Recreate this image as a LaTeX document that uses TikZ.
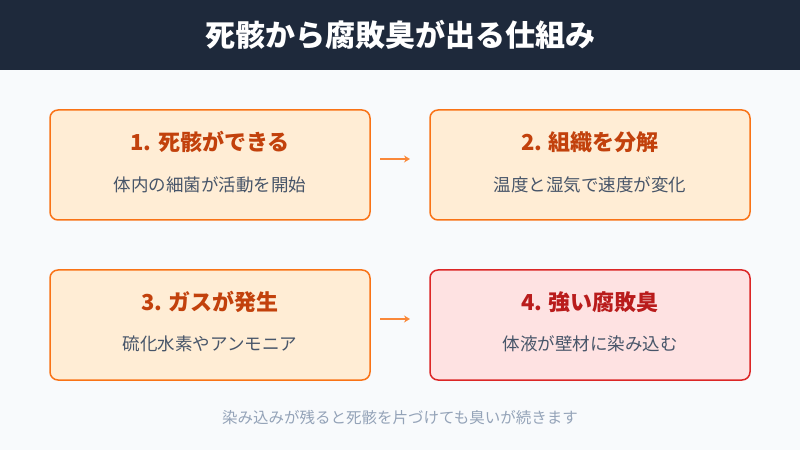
\documentclass[tikz,border=0pt]{standalone}
\usepackage{fontspec}
\setmainfont{Noto Sans CJK JP}
\usetikzlibrary{arrows.meta}
\definecolor{bg}{HTML}{F8FAFC}
\definecolor{head}{HTML}{1E293B}
\definecolor{obord}{HTML}{F97316}
\definecolor{ofill}{HTML}{FFEDD5}
\definecolor{otext}{HTML}{C2410C}
\definecolor{rbord}{HTML}{DC2626}
\definecolor{rfill}{HTML}{FEE2E2}
\definecolor{rtext}{HTML}{B91C1C}
\definecolor{sub}{HTML}{475569}
\definecolor{foot}{HTML}{94A3B8}
\tikzset{
  stepbox/.style={draw=obord, fill=ofill, line width=1.5pt, rounded corners=8pt, minimum width=320pt, minimum height=110pt, inner sep=0pt},
  redbox/.style={stepbox, draw=rbord, fill=rfill},
  ttl/.style={font=\fontsize{22}{26}\selectfont\bfseries, text=otext},
  rttl/.style={ttl, text=rtext},
  subt/.style={font=\fontsize{17.5}{20}\selectfont, text=sub},
  flow/.style={draw=obord!85, line width=1.2pt, -{Stealth[length=6pt,width=7pt]}}
}
\begin{document}
\begin{tikzpicture}[x=1pt,y=1pt]
\useasboundingbox (0,0) rectangle (800,450);
\fill[bg] (0,0) rectangle (800,450);
\fill[head] (0,380) rectangle (800,450);
\node[text=white, font=\fontsize{30}{34}\selectfont\bfseries] (title) at (400,415) {死骸から腐敗臭が出る仕組み};

\node[stepbox] (b1) at (210,285) {};
\node[stepbox] (b2) at (590,285) {};
\node[stepbox] (b3) at (210,125) {};
\node[redbox] (b4) at (590,125) {};

\node[ttl] (t1) at (210,308) {1. 死骸ができる};
\node[subt] (s1) at (210,265) {体内の細菌が活動を開始};
\node[ttl] (t2) at (590,308) {2. 組織を分解};
\node[subt] (s2) at (590,265) {温度と湿気で速度が変化};
\node[ttl] (t3) at (210,148) {3. ガスが発生};
\node[subt] (s3) at (210,106) {硫化水素やアンモニア};
\node[rttl] (t4) at (590,148) {4. 強い腐敗臭};
\node[subt] (s4) at (590,106) {体液が壁材に染み込む};

\coordinate (a1s) at (380,291);
\coordinate (a1e) at (410,291);
\coordinate (a2s) at (380,131);
\coordinate (a2e) at (410,131);
\draw[flow] (a1s) -- (a1e);
\draw[flow] (a2s) -- (a2e);

\node[text=foot, font=\fontsize{15.5}{18}\selectfont] (ft) at (400,32) {染み込みが残ると死骸を片づけても臭いが続きます};
\end{tikzpicture}
\end{document}
